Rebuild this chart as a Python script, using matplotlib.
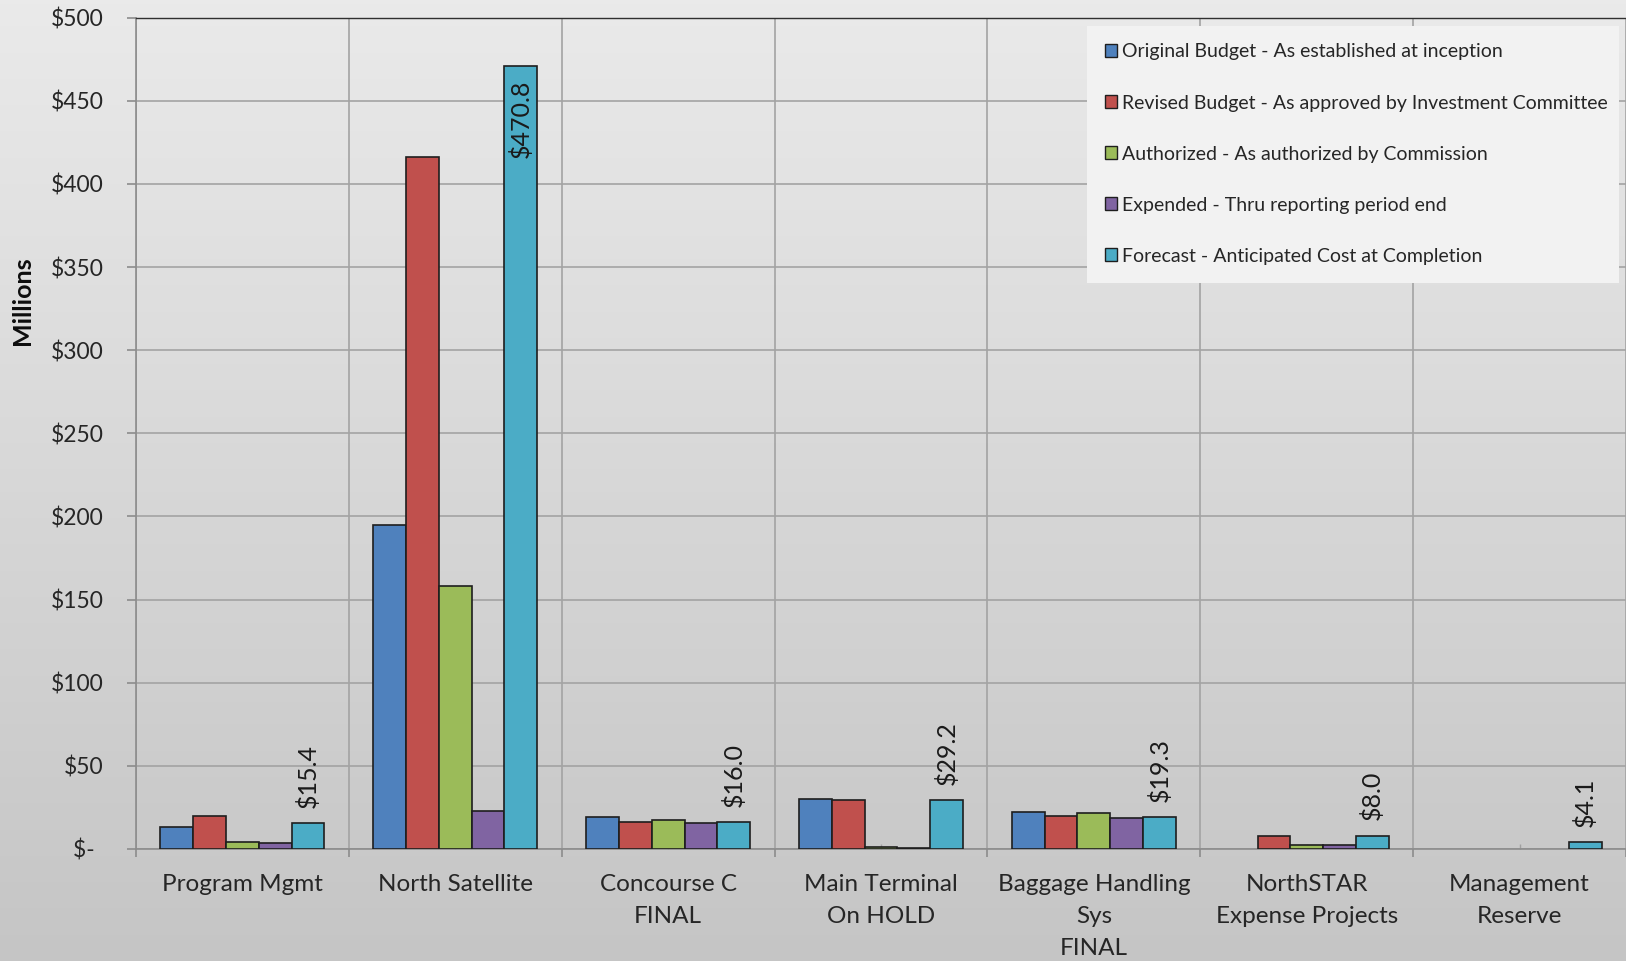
import numpy as np
import matplotlib.pyplot as plt
from matplotlib.patches import Patch, Rectangle
from matplotlib.colors import LinearSegmentedColormap

plt.rcParams["font.family"] = ["Lato", "DejaVu Sans"]

categories = ["Program Mgmt", "North Satellite", "Concourse C\nFINAL",
              "Main Terminal\nOn HOLD", "Baggage Handling\nSys\nFINAL",
              "NorthSTAR\nExpense Projects", "Management\nReserve"]
series_names = ["Original Budget - As established at inception",
                "Revised Budget - As approved by Investment Committee",
                "Authorized - As authorized by Commission",
                "Expended - Thru reporting period end",
                "Forecast - Anticipated Cost at Completion"]
original = [13.1, 195.0, 19.3, 30.0, 22.4, 0.0, 0.0]
revised = [20.0, 416.0, 16.2, 29.3, 20.0, 8.1, 0.0]
authorized = [4.4, 158.0, 17.5, 1.2, 21.8, 2.3, 0.0]
expended = [3.7, 23.0, 15.6, 0.5, 18.7, 2.3, 0.0]
forecast = [15.4, 470.8, 16.0, 29.2, 19.3, 8.0, 4.1]
yticks = list(range(0, 501, 50))

colors = ["#4f81bd", "#c0504d", "#9bbb59", "#8064a2", "#4bacc6"]
series = [original, revised, authorized, expended, forecast]

W, H = 1626, 961
fig = plt.figure(figsize=(W / 100, H / 100), dpi=100)

# gradient background over the whole figure
bg = fig.add_axes([0, 0, 1, 1], zorder=-10)
cmap = LinearSegmentedColormap.from_list("bg", ["#eaeaea", "#c5c5c5"])
bg.imshow(np.linspace(0, 1, 256).reshape(-1, 1), aspect="auto", cmap=cmap,
          extent=[0, 1, 0, 1], origin="upper")
bg.axis("off")

ax = fig.add_axes([136 / W, 1 - 849 / H, 1 - 136 / W, (849 - 17.6) / H])
ax.set_facecolor("none")

x = np.arange(len(categories))
bw = 0.154
for k, (vals, col) in enumerate(zip(series, colors)):
    lw = [0 if v == 0 else 1.2 for v in vals]
    ax.bar(x + (k - 2) * bw, vals, width=bw, color=col,
           edgecolor="#1e1e1e", linewidth=lw, zorder=3)

for xi, v in zip(x, forecast):
    inside = v > 400
    ax.annotate(f"${v:.1f}", xy=(xi + 2 * bw, v),
                xytext=(0, -10 if inside else 11), textcoords="offset points",
                rotation=90, ha="center", va="top" if inside else "bottom",
                fontsize=18, color="#1a1a1a", zorder=4)

ax.set_xlim(-0.5, len(categories) - 0.5)
ax.set_ylim(0, 500)

ax.set_yticks(yticks)
ax.set_yticklabels([f"${v}" if v else "$- \u2009" for v in yticks])
ax.tick_params(axis="y", direction="out", length=6.5, width=1.2,
               color="#8c8c8c", pad=17, labelsize=16.5, labelcolor="#262626")

ax.set_xticks(x)
ax.set_xticklabels(categories, linespacing=1.65)
ax.set_xticks(np.arange(-0.5, len(categories)), minor=True)
ax.tick_params(axis="x", which="major", direction="in", length=3.5,
               width=1, color="#a0a0a0", pad=18, labelsize=17.5,
               labelcolor="#262626")
ax.tick_params(axis="x", which="minor", direction="out", length=5.8,
               width=1.2, color="#8c8c8c")

ax.yaxis.grid(True, color="#a3a3a3", linewidth=1.2, zorder=0)
ax.xaxis.grid(True, which="minor", color="#a3a3a3", linewidth=1.2, zorder=0)
ax.set_axisbelow(True)

for side in ["left", "bottom"]:
    ax.spines[side].set_color("#8c8c8c")
    ax.spines[side].set_linewidth(1.2)
ax.spines["top"].set_color("#303030")
ax.spines["top"].set_linewidth(1.0)
ax.spines["right"].set_visible(False)

fig.text(23 / W, 1 - 301 / H, "Millions", rotation=90, ha="center",
         va="center", fontsize=18, fontweight="bold", color="#0d0d0d")

# legend box drawn separately so its size matches the original
ax.add_patch(Rectangle((1087 / W, 1 - 283 / H), (1619 - 1087) / W, 257 / H,
                       transform=fig.transFigure, facecolor="#f2f2f2",
                       edgecolor="none", zorder=4, clip_on=False))
handles = [Patch(facecolor=c, edgecolor="#1e1e1e", linewidth=1) for c in colors]
leg = ax.legend(handles, series_names, loc="upper left",
                bbox_to_anchor=(1087 / W, 1 - 26 / H),
                bbox_transform=fig.transFigure, frameon=False,
                fontsize=14.0, handlelength=0.65, handleheight=0.65,
                handletextpad=0.25, labelspacing=1.75, borderpad=0.9,
                borderaxespad=0)
leg.set_zorder(5)
for t in leg.get_texts():
    t.set_color("#262626")

fig.savefig("out.png", dpi=100)
